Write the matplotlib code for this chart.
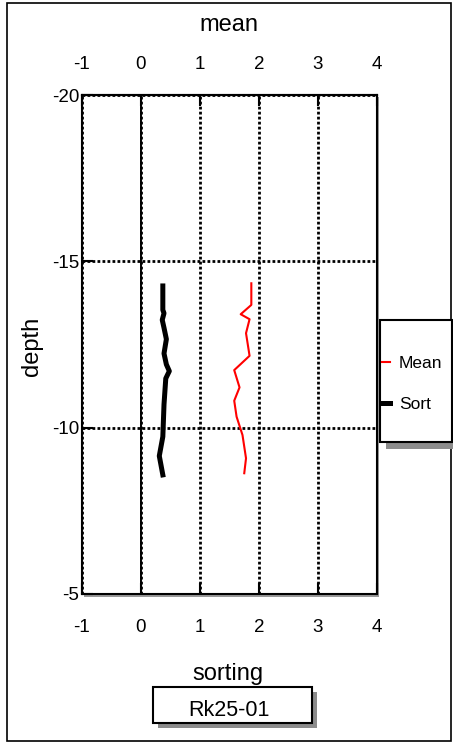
"""
Grain size profile: mean and sorting against depth for core Rk25-01
"""
import matplotlib.pyplot as plt
from matplotlib.patches import Rectangle

plt.rcParams['font.family'] = ['Liberation Sans', 'DejaVu Sans']
plt.rcParams['axes.unicode_minus'] = False

# values
mean_depth = [-14.34, -13.69, -13.41, -13.26, -12.84, -12.16, -11.73, -11.21, -10.81, -10.33, -9.78, -9.08, -8.63]
mean_val = [1.87, 1.87, 1.69, 1.84, 1.78, 1.84, 1.58, 1.67, 1.58, 1.62, 1.72, 1.78, 1.75]
sort_depth = [-14.26, -13.54, -13.44, -13.24, -13.0, -12.66, -12.23, -11.9, -11.7, -11.48, -10.7, -9.73, -9.15, -8.58]
sort_val = [0.37, 0.37, 0.39, 0.36, 0.39, 0.43, 0.39, 0.43, 0.48, 0.42, 0.39, 0.37, 0.31, 0.37]
x_ticks = [-1, 0, 1, 2, 3, 4]
y_ticks = [-20, -15, -10, -5]
sample_name = "Rk25-01"

W, H = 453, 742


def fx(px):
    return px / W


def fy(py):
    return 1 - py / H


def box(x0, y0, x1, y1, **kw):
    # rectangle in figure pixels (y measured from the top)
    return Rectangle((fx(x0), fy(y1)), fx(x1) - fx(x0), fy(y0) - fy(y1),
                     transform=fig.transFigure, **kw)


fig = plt.figure(figsize=(W / 100, H / 100), dpi=100)

# outer frame + plot shadow
fig.patches.append(box(7, 3, 451, 741, fill=False, lw=1.2, ec='black'))
fig.patches.append(box(84, 97, 379, 597, fc='0.6', ec='none', zorder=-1))

ax = fig.add_axes([fx(82), fy(594), fx(377) - fx(82), fy(95) - fy(594)])
ax.plot(mean_val, mean_depth, color='red', lw=1.5, label='Mean', zorder=3)
ax.plot(sort_val, sort_depth, color='black', lw=3.6, label='Sort', zorder=3)

ax.set_xlim(-1, 4)
ax.set_ylim(-5, -20)
ax.set_xticks(x_ticks)
ax.set_yticks(y_ticks)
ax.grid(True, color='black', ls=(0, (1, 0.8)), lw=2)
ax.axvline(0, color='black', lw=1.4)
for sp in ax.spines.values():
    sp.set_linewidth(1.5)
ax.tick_params(axis='x', direction='in', length=8, width=1.5, labelsize=13.5, pad=18)
ax.tick_params(axis='y', direction='in', length=8, width=1.5, labelsize=13.5, pad=2)

secax = ax.secondary_xaxis('top')
secax.set_xticks(x_ticks)
secax.tick_params(direction='in', length=8, width=1.5, labelsize=13.5, pad=16)
secax.spines['top'].set_linewidth(1.5)

fig.text(fx(228.5), fy(31), 'mean', ha='center', va='baseline', fontsize=17)
fig.text(fx(228), fy(680), 'sorting', ha='center', va='baseline', fontsize=17)
fig.text(fx(37.5), fy(346), 'depth', ha='center', va='baseline', fontsize=17,
         rotation=90, rotation_mode='anchor')

# legend box with shadow
fig.patches.append(box(386, 326, 458, 449, fc='0.55', ec='none', zorder=1))
fig.patches.append(box(380, 320, 452, 442, fc='white', ec='black', lw=1.5, zorder=2))
handles, labels = ax.get_legend_handles_labels()
leg = fig.legend(handles, labels, loc='center', bbox_to_anchor=(fx(412), fy(384)),
                 frameon=False, fontsize=12.5, handlelength=0.5, handletextpad=0.5,
                 labelspacing=1.5)
leg.set_zorder(3)

# sample name box
fig.patches.append(box(158, 692, 317, 728, fc='0.55', ec='none', zorder=1))
fig.patches.append(box(153, 687, 312, 723, fc='white', ec='black', lw=1.5, zorder=2))
fig.text(fx(229), fy(716), sample_name, ha='center', va='baseline', fontsize=15.5, zorder=3)

fig.savefig('out.png', dpi=100)
